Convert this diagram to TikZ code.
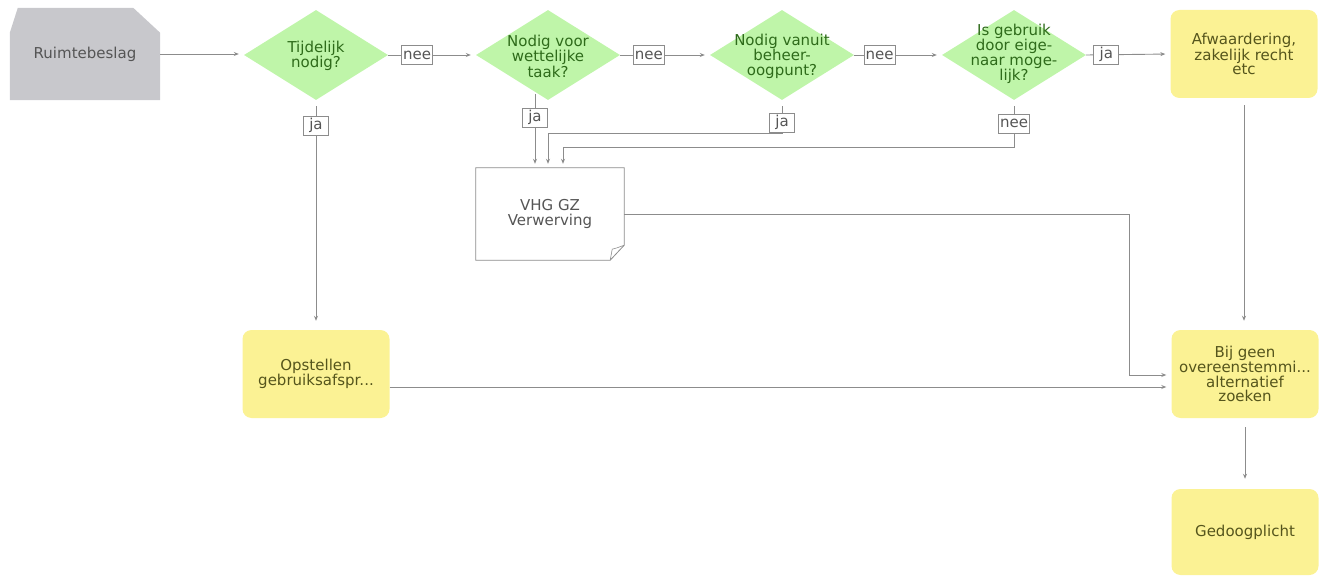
\documentclass[tikz,border=0pt]{standalone}
\usepackage{fontspec}
\setmainfont{DejaVu Sans}
\usetikzlibrary{shapes.geometric,arrows.meta,calc}
\definecolor{lc}{HTML}{8C8C8C}
\definecolor{gfill}{HTML}{C8C8CC}
\definecolor{dgreen}{HTML}{BFF5A9}
\definecolor{gtext}{HTML}{2E6B1A}
\definecolor{yfill}{HTML}{FBF294}
\definecolor{ytext}{HTML}{55551C}
\definecolor{dtext}{HTML}{555555}
\begin{document}
\begin{tikzpicture}[x=1pt,y=-1pt,
  font=\fontsize{15}{14.5}\selectfont,
  conn/.style={draw=lc, line width=0.9pt, -{Stealth[length=5pt,width=4pt]}, shorten >=5pt},
  dia/.style={diamond, fill=dgreen, draw=none, minimum width=144pt, minimum height=90pt, inner sep=0pt},
  diatext/.style={text=gtext, align=center, inner sep=0pt},
  ybox/.style={rectangle, rounded corners=9pt, fill=yfill, draw=none, minimum width=147pt, minimum height=88pt, text=ytext, align=center},
  lab/.style={draw=lc, fill=white, line width=0.8pt, text=dtext, inner sep=1.5pt, minimum width=25pt, minimum height=19pt},
  plainbox/.style={rectangle, draw=none, align=center, text=dtext}
]
\useasboundingbox (0,0) rectangle (1322,577);

% nodes
\node[plainbox, minimum width=150pt, minimum height=92pt] (r) at (85,54) {};
\fill[gfill] (r.south west) -- ($(r.north west)+(0,25)$) -- ($(r.north west)+(8,0)$) -- ($(r.north east)+(-27,0)$) -- ($(r.north east)+(0,25)$) -- (r.south east) -- cycle;
\node[plainbox] (rt) at (r) {Ruimtebeslag};

\node[dia] (d1) at (316,55) {};
\node[diatext] (d1t) at (316,56) {Tijdelijk\\nodig?};
\node[dia] (d2) at (548,55) {};
\node[diatext] (d2t) at (548,56) {Nodig voor\\wettelijke\\taak?};
\node[dia] (d3) at (782,55) {};
\node[diatext] (d3t) at (782,56) {Nodig vanuit\\beheer-\\oogpunt?};
\node[dia] (d4) at (1014,55) {};
\node[diatext] (d4t) at (1014,54) {Is gebruik\\door eige-\\naar moge-\\lijk?};

\node[ybox] (afw) at (1244,54) {Afwaardering,\\zakelijk recht\\etc};
\node[ybox] (opst) at (316,374) {Opstellen\\gebruiksafspr...};
\node[ybox] (bij) at (1245,374) {Bij geen\\overeenstemmi...\\alternatief\\zoeken};
\node[ybox, minimum height=86pt] (ged) at (1245,532) {Gedoogplicht};

\node[plainbox, minimum width=148pt, minimum height=92pt] (vhg) at (550,214) {VHG GZ\\Verwerving};
\draw[lc, line width=0.8pt, fill=white] (vhg.north west) -- (vhg.north east) -- ($(vhg.south east)+(0,-15)$) -- ($(vhg.south east)+(-14,0)$) -- (vhg.south west) -- cycle;
\draw[lc, line width=0.6pt] ($(vhg.south east)+(0,-15)$) .. controls ($(vhg.south east)+(-8,-12)$) .. ($(vhg.south east)+(-12,-11)$) .. controls ($(vhg.south east)+(-13,-5)$) .. ($(vhg.south east)+(-14,0)$);
\node[plainbox] (vhgt) at (vhg) {VHG GZ\\Verwerving};

% connectors
\draw[conn] (r.east) -- (r.east -| d1.west);
\draw[conn] (d1.east) -- node[lab, pos=0.33] (l1) {nee} (d2.west);
\draw[conn] (d2.east) -- node[lab, pos=0.32] (l2) {nee} (d3.west);
\draw[conn] (d3.east) -- node[lab, pos=0.29] (l3) {nee} (d4.west);
\draw[conn] (d4.east) -- node[lab, pos=0.24] (l4) {ja} (afw.west);

\draw[conn, shorten <=6pt, shorten >=9pt] (d1.south) -- node[lab, pos=0.11] (l5) {ja} (opst.north);

\coordinate (d2j) at ($(d2.south)+(-13,-6)$);
\draw[conn, shorten >=4pt] (d2j) -- node[lab, pos=0.32] (l6) {ja} (d2j |- vhg.north);
\draw[conn, shorten <=6pt, shorten >=4pt] (d3.south) -- node[lab, pos=0.68] (l7) {ja} ++(0,33) -| ($(vhg.north)+(-2,0)$);
\draw[conn, shorten <=6pt, shorten >=4pt] (d4.south) -- node[lab, pos=0.5] (l8) {nee} ++(0,47) -| ($(vhg.north)+(13,0)$);

\draw[conn, shorten <=7pt, shorten >=9pt] (afw.south) -- (afw.south |- bij.north);
\draw[conn] (vhg.east) -- ++(505,0) |- ($(bij.west)+(0,1)$);
\draw[conn] ($(opst.east)+(0,13)$) -- ($(bij.west)+(0,13)$);
\draw[conn, shorten <=9pt, shorten >=10pt] (bij.south) -- (ged.north);
\end{tikzpicture}
\end{document}
